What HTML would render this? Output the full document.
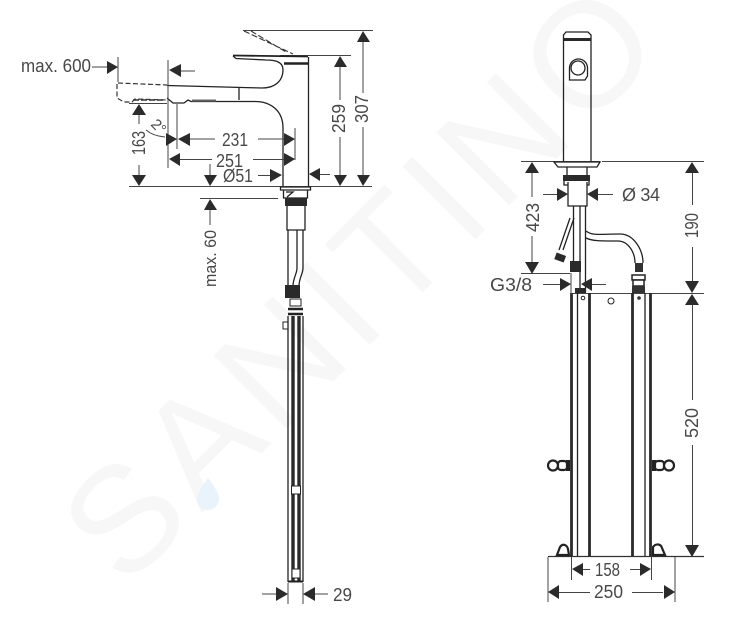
<!DOCTYPE html>
<html>
<head>
<meta charset="utf-8">
<style>
html,body{margin:0;padding:0;background:#fff;width:734px;height:630px;overflow:hidden}
svg{display:block;filter:blur(.35px)}
text{font-family:"Liberation Sans",sans-serif;fill:#484848}
.d{font-size:18px}
.l{stroke:#444;stroke-width:1;fill:none}
.o{stroke:#222;stroke-width:1.3;fill:none}
.t{stroke:#222;stroke-width:2.6;fill:none}
.a{fill:#2b2b2b;stroke:none}
.w{font-size:150px;fill:#f7f7f7;letter-spacing:8px}
</style>
</head>
<body>
<svg width="734" height="630" viewBox="0 0 734 630" xmlns="http://www.w3.org/2000/svg">
<!-- watermark -->
<text class="w" transform="translate(125,590) rotate(-45)">SANITINO</text>
<path d="M208 478 q-11 14 -11 21 a11 11 0 0 0 22 0 q0 -7 -11 -21z" fill="#e8f3fb"/>

<!-- LEFT: faucet outline -->
<path class="l" d="M243 30.500H373M280 55.500H351M129 186.500H372M129 103.500H167M200 198.500H278"/>
<path d="M244 31L293 54M251 31L286 52" stroke="#333" stroke-width="1.100" stroke-dasharray="6 2.500" fill="none"/>
<path d="M233 55.500L308 56.500" stroke="#222" stroke-width="1.800" fill="none"/>
<path class="o" d="M233 56L236 58.500L266 60C276 60 283 62 283 70C283 80 276 88 262 88L167 85.500"/>
<path d="M284 63.500H308" stroke="#222" stroke-width="2.600" fill="none"/>
<path class="o" d="M308.500 57V186"/>
<path class="o" d="M283 186V128C283 110 270 101.500 255 101.500H191L188 100L184 103H173L167 98" />
<path class="o" d="M239 87V100"/>
<path d="M192 100.500H216" stroke="#666" stroke-width="2"/>
<path d="M168 60V168M118 57V82M177 104V149M295 128V160" class="l"/>
<path d="M118 83L167 85M117 84V98L124 102L132 102L135 99L167 100" stroke="#333" stroke-width="1.200" stroke-dasharray="5 2.500" fill="none"/>
<path d="M133 100H165" stroke="#333" stroke-width="1.600" stroke-dasharray="6 2" fill="none"/>
<path class="l" d="M146 130Q153 136 165 137"/>

<!-- lower left -->
<path class="o" d="M280.500 187H310.500V190H280.500Z"/>
<path class="o" d="M283.500 190V198H307.500V190M286 192L293 192L287 197"/>
<rect x="285" y="198" width="22" height="8" fill="#2a2a2a"/>
<path class="o" d="M287 206V230H305V206"/>
<path class="o" d="M288 230V285M297 230V268C297 274 293 278 293 286M303 230V268C303 274 299 278 299 286"/>
<rect x="285" y="285" width="15" height="13" fill="#2a2a2a"/>
<rect x="290" y="299" width="11" height="7" fill="#fff" stroke="#222"/>
<path class="t" d="M288 309H303M288 314H303"/>
<rect x="283" y="322" width="5" height="7" fill="#fff" stroke="#222"/>
<path class="o" d="M288 316V582M303 316V582"/>
<path d="M293 316V582M299 316V582" stroke="#2a2a2a" stroke-width="3.400" fill="none"/>
<rect x="291.500" y="486" width="9" height="8" fill="#fff" stroke="#222"/>
<rect x="292" y="569" width="8" height="9" fill="#fff" stroke="#222"/>
<path d="M288 581.500H303" stroke="#222" stroke-width="2"/>
<path class="l" d="M288 583V604M303 583V604M262 594H276M315 594H328"/>
<polygon class="a" points="276,587 288,594 276,601"/>
<polygon class="a" points="315,587 303,594 315,601"/>
<text class="d" x="333" y="601" textLength="19" lengthAdjust="spacingAndGlyphs">29</text>

<!-- left dims -->
<text class="d" x="21" y="72" textLength="70" lengthAdjust="spacingAndGlyphs">max. 600</text>
<path class="l" d="M92 67H107M181 71H195"/>
<polygon class="a" points="107,61 118,67 107,74"/>
<polygon class="a" points="181,64 169,70 181,77"/>

<polygon class="a" points="139,104 132,115 146,115"/>
<path class="l" d="M139 115V124M139 165V175"/>
<polygon class="a" points="139,186 132,175 146,175"/>
<text class="d" transform="translate(145,155) rotate(-90)" textLength="24" lengthAdjust="spacingAndGlyphs">163</text>
<text transform="translate(150,125) rotate(45)" style="font-size:15px">2°</text>

<polygon class="a" points="166,133 177,139 166,146"/>
<polygon class="a" points="190,133 178,139 190,146"/>
<path class="l" d="M190 139H215M258 139H284"/>
<polygon class="a" points="284,133 295,139 284,146"/>
<text class="d" x="222" y="146" textLength="26" lengthAdjust="spacingAndGlyphs">231</text>

<polygon class="a" points="180,153 169,159 180,166"/>
<path class="l" d="M180 159.500H212M253 159.500H284"/>
<polygon class="a" points="284,153 295,159 284,166"/>
<text class="d" x="216" y="167" textLength="27" lengthAdjust="spacingAndGlyphs">251</text>

<path class="l" d="M210 164V175M258 175.500H270M320 174.500H330"/>
<polygon class="a" points="204,175 217,175 210,186"/>
<text class="d" x="223" y="182" textLength="30" lengthAdjust="spacingAndGlyphs">Ø51</text>
<polygon class="a" points="270,169 282,175 270,182"/>
<polygon class="a" points="320,168 309,174 320,181"/>

<polygon class="a" points="340,56 334,67 347,67"/>
<path class="l" d="M340 67V100M340 137V175"/>
<polygon class="a" points="340,186 334,175 347,175"/>
<text class="d" transform="translate(345,133) rotate(-90)" textLength="29" lengthAdjust="spacingAndGlyphs">259</text>

<polygon class="a" points="363,31 357,42 370,42"/>
<path class="l" d="M363 42V93M363 127V175"/>
<polygon class="a" points="363,186 357,175 370,175"/>
<text class="d" transform="translate(368,123) rotate(-90)" textLength="28" lengthAdjust="spacingAndGlyphs">307</text>

<polygon class="a" points="210,199 204,210 217,210"/>
<path class="l" d="M210 210V225"/>
<text transform="translate(216,287) rotate(-90)" style="font-size:17px" textLength="57" lengthAdjust="spacingAndGlyphs">max. 60</text>

<!-- RIGHT faucet -->
<path class="o" d="M563.500 162V35L566 32H588L591 35V162"/>
<rect x="564" y="38" width="27" height="3" fill="#2a2a2a"/>
<path class="o" d="M569.500 80V68A9 9 0 0 1 587.500 68V76L585 80Z"/>
<circle class="o" cx="578" cy="68" r="7"/>
<path class="l" d="M521 161.500H600M602 161.500H704"/>
<path class="o" d="M554 162H600L597 167H558ZM567 167V175M587 167V175"/>
<rect x="563" y="175" width="27" height="6" fill="#2a2a2a"/>
<path class="o" d="M564 181V185H568M589 181V185H587M568 182V206H587V182"/>
<path class="o" d="M573.500 206V262M580 206V292M585.500 206V292"/>
<path class="o" d="M586 231C592 236 600 234 620 234C634 234 643 250 643 263"/>
<path class="o" d="M586 238C592 241 600 241 618 241C628 241 635 252 635 263"/>
<rect x="635" y="263" width="8" height="9" fill="#333"/>
<path class="o" d="M574 218L563 250M570 218L559 250"/>
<rect x="555" y="254" width="10" height="7" fill="#2a2a2a" transform="rotate(20 560 258)"/>
<rect x="570" y="261" width="11" height="11" fill="#2a2a2a"/>
<rect x="632" y="275" width="13" height="5" fill="#fff" stroke="#222" stroke-width="1.500"/>
<rect x="633" y="280" width="11" height="6" fill="#fff" stroke="#222" stroke-width="1.500"/>
<rect x="632" y="286" width="13" height="7" fill="#333"/>
<rect x="575" y="288" width="11" height="5" fill="#2a2a2a"/>

<!-- frame -->
<path class="l" d="M570 293.500H704"/>
<path d="M571.500 293V556M589.500 293V556M632.500 293V556M650.500 293V556" stroke="#2a2a2a" stroke-width="2.800" fill="none"/>
<path class="o" d="M577.500 293V556M645 293V556"/>
<circle cx="611" cy="301" r="3" fill="#fff" stroke="#222"/>
<circle cx="583" cy="298" r="1.800" fill="#fff" stroke="#222"/>
<circle cx="639" cy="298" r="1.800" fill="#333"/>
<path d="M548 556.500H704" stroke="#333" stroke-width="1.200"/>
<!-- brackets -->
<g fill="#fff" stroke="#222" stroke-width="2.200">
<circle cx="553" cy="465.500" r="5"/><rect x="558" y="461" width="9" height="9" rx="3"/>
<circle cx="669" cy="465.500" r="5"/><rect x="655" y="461" width="9" height="9" rx="3"/>
<path d="M557 555L560 547C563 543 567 545 568 549L569 555Z"/>
<path d="M653 555V547C656 543 661 544 662 548L665 555Z"/>
</g>
<rect x="566" y="460" width="4" height="11" fill="#222"/>
<rect x="652" y="460" width="4" height="11" fill="#222"/>

<!-- right dims -->
<polygon class="a" points="557,188 568,194 557,201"/>
<polygon class="a" points="598,188 587,194 598,201"/>
<path class="l" d="M543 194.500H557M598 194.500H613"/>
<text class="d" x="622" y="201" textLength="38" lengthAdjust="spacing">Ø 34</text>

<polygon class="a" points="532,162 525,173 539,173"/>
<path class="l" d="M532 173V197M532 236V262M521 273.500H570"/>
<polygon class="a" points="532,274 525,262 539,262"/>
<text class="d" transform="translate(539,232) rotate(-90)" textLength="29" lengthAdjust="spacingAndGlyphs">423</text>

<text class="d" x="490" y="291" textLength="42" lengthAdjust="spacingAndGlyphs">G3/8</text>
<path class="l" d="M543 284.500H560M592 284.500H606M571 273V295"/>
<polygon class="a" points="560,278 571,284 560,291"/>
<polygon class="a" points="592,278 581,284 592,291"/>

<polygon class="a" points="692,162 685,173 699,173"/>
<path class="l" d="M692.500 173V205M692.500 247V281"/>
<polygon class="a" points="692,293 685,281 699,281"/>
<text class="d" transform="translate(698,238) rotate(-90)" textLength="25" lengthAdjust="spacingAndGlyphs">190</text>
<polygon class="a" points="692,294 685,305 699,305"/>
<path class="l" d="M692.500 305V400M692.500 445V545"/>
<polygon class="a" points="692,557 685,545 699,545"/>
<text class="d" transform="translate(698,438) rotate(-90)" textLength="30" lengthAdjust="spacingAndGlyphs">520</text>

<path class="l" d="M571.500 557V580M651.500 557V580M548 557V602M675 557V602"/>
<polygon class="a" points="583,563 572,569 583,576"/>
<polygon class="a" points="640,563 651,569 640,576"/>
<path class="l" d="M583 569.500H590M630 569.500H640M559 592.500H590M632 592.500H663"/>
<text class="d" x="595" y="576" textLength="25" lengthAdjust="spacingAndGlyphs">158</text>
<polygon class="a" points="559,585 548,592 559,599"/>
<polygon class="a" points="664,585 675,592 664,599"/>
<text class="d" x="594" y="598" textLength="29" lengthAdjust="spacingAndGlyphs">250</text>
</svg>
</body>
</html>
